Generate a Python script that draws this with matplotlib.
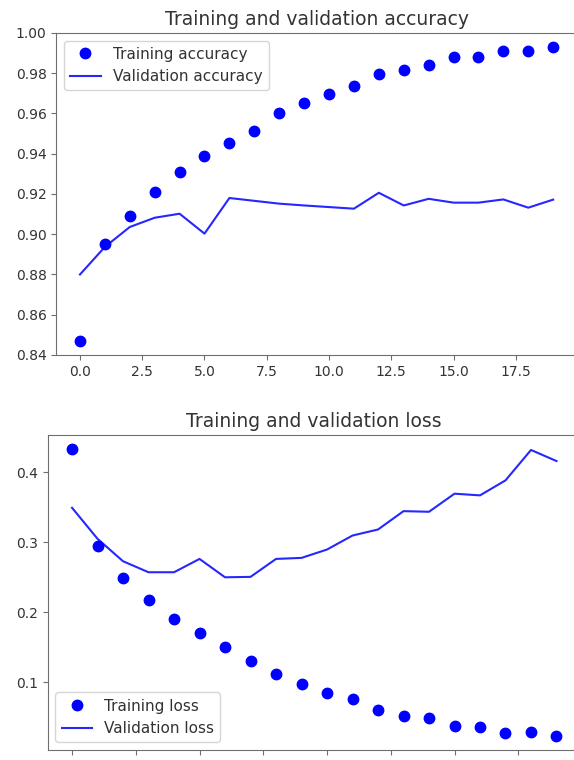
import matplotlib
matplotlib.use('Agg')
import matplotlib.pyplot as plt

epochs = list(range(20))

acc = [0.847, 0.895, 0.909, 0.921, 0.9307, 0.9387, 0.9453, 0.9513, 0.960, 0.965,
       0.9697, 0.9737, 0.9796, 0.9817, 0.984, 0.9883, 0.9883, 0.9911, 0.9911, 0.9928]
val_acc = [0.880, 0.8937, 0.9036, 0.9082, 0.9102, 0.9003, 0.918, 0.9166, 0.9152, 0.9143,
           0.9135, 0.9127, 0.9206, 0.9143, 0.9176, 0.9157, 0.9157, 0.9173, 0.9132, 0.9172]

loss = [0.4325, 0.294, 0.249, 0.218, 0.1907, 0.170, 0.1497, 0.131, 0.1124, 0.0977,
        0.0853, 0.0758, 0.0605, 0.0524, 0.0486, 0.0376, 0.0358, 0.0281, 0.0295, 0.0238]
val_loss = [0.349, 0.3047, 0.2727, 0.257, 0.257, 0.276, 0.2498, 0.2504, 0.276, 0.2775,
            0.2894, 0.3094, 0.318, 0.3442, 0.3433, 0.3691, 0.3667, 0.3881, 0.4315, 0.4157]

txt = '#333333'
edge = '#6e6e6e'
plt.rcParams['font.size'] = 10.5
plt.rcParams['text.color'] = txt
plt.rcParams['xtick.color'] = edge
plt.rcParams['ytick.color'] = edge
plt.rcParams['xtick.labelcolor'] = txt
plt.rcParams['ytick.labelcolor'] = txt
plt.rcParams['axes.edgecolor'] = edge

fig = plt.figure(figsize=(5.74, 7.6), dpi=100)

ax1 = fig.add_axes([0.0981, 0.5329, 0.9068, 0.4237])
ax1.plot(epochs, acc, 'bo', markersize=7.5, label='Training accuracy')
ax1.plot(epochs, val_acc, 'b', linewidth=1.5, alpha=0.85, label='Validation accuracy')
ax1.set_ylim(0.84, 1.00)
ax1.set_yticks([0.84, 0.86, 0.88, 0.90, 0.92, 0.94, 0.96, 0.98, 1.00])
ax1.set_xticks([0, 2.5, 5, 7.5, 10, 12.5, 15, 17.5])
ax1.tick_params(labelsize=10)
ax1.set_title('Training and validation accuracy', fontsize=13.5, color=txt)
ax1.legend(loc='upper left', fontsize=11)

ax2 = fig.add_axes([0.0833, 0.0132, 0.9284, 0.4145])
ax2.plot(epochs, loss, 'bo', markersize=7.5, label='Training loss')
ax2.plot(epochs, val_loss, 'b', linewidth=1.5, alpha=0.85, label='Validation loss')
ax2.set_yticks([0.1, 0.2, 0.3, 0.4])
ax2.set_xticks([0, 2.5, 5, 7.5, 10, 12.5, 15, 17.5])
ax2.tick_params(labelbottom=False, labelsize=10)
ax2.set_title('Training and validation loss', fontsize=13.5, color=txt)
ax2.legend(loc='lower left', fontsize=11)

fig.savefig('out.png', dpi=100)
